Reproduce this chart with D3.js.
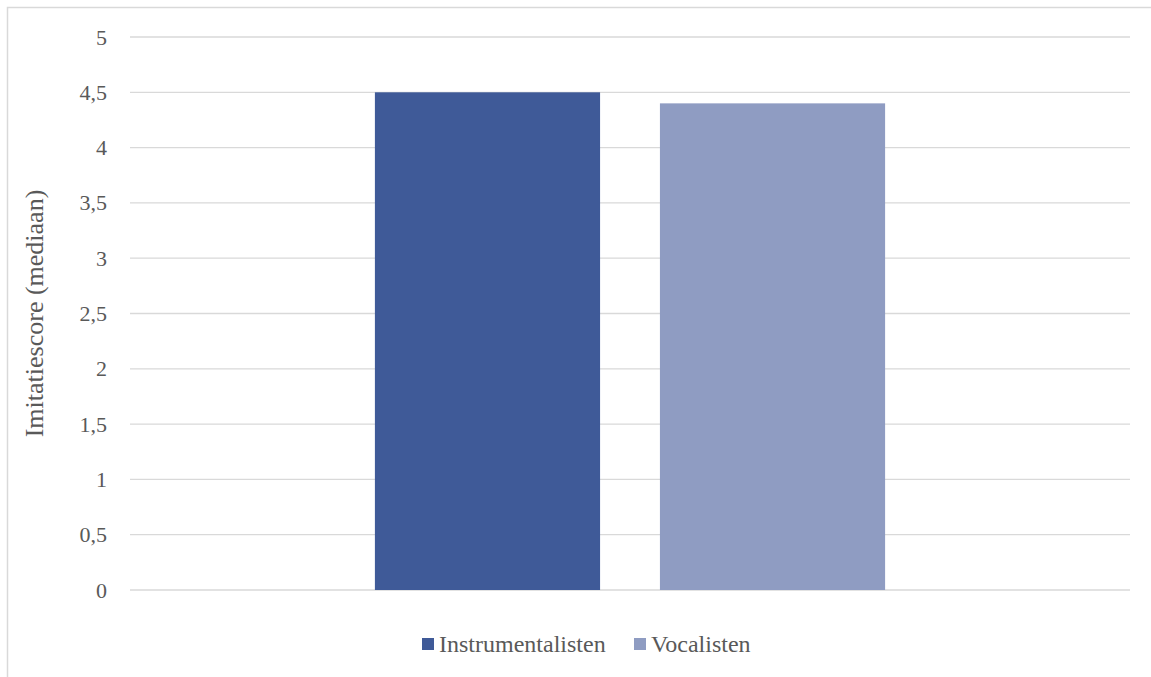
<!DOCTYPE html>
<html>
<head>
<meta charset="utf-8">
<script src="https://cdn.jsdelivr.net/npm/d3@7"></script>
</head>
<body style="margin:0">
<div id="chart"></div>
<script>
// data
const categories = [''];
const seriesNames = ['Instrumentalisten', 'Vocalisten'];
const seriesValues = [[4.5], [4.4]];
const seriesColors = ['#3F5A98', '#8F9CC2'];
const yTicks = [0, 0.5, 1, 1.5, 2, 2.5, 3, 3.5, 4, 4.5, 5];

const width = 1151, height = 677;
const margin = { top: 37, right: 21, bottom: 87, left: 130 };
const font = '"Liberation Serif"';
const textColor = '#595959';

const svg = d3.select('#chart').append('svg')
  .attr('width', width).attr('height', height)
  .style('display', 'block');

// outer chart border (runs off the right and bottom of the picture)
svg.append('rect')
  .attr('x', 7.5).attr('y', 7.5)
  .attr('width', width + 10).attr('height', height + 10)
  .attr('fill', 'none').attr('stroke', '#D9D9D9').attr('stroke-width', 1.5);

const y = d3.scaleLinear().domain([0, 5]).range([height - margin.bottom, margin.top]);
const x0 = d3.scaleBand().domain(categories)
  .range([margin.left, width - margin.right]).paddingInner(0).paddingOuter(0.48);
const x1 = d3.scaleBand().domain(seriesNames)
  .range([0, x0.bandwidth()]).paddingInner(0.21).paddingOuter(0);

const fmt = v => String(v).replace('.', ',');

// gridlines
svg.append('g').selectAll('line')
  .data(yTicks).enter().append('line')
  .attr('x1', margin.left).attr('x2', width - margin.right)
  .attr('y1', d => y(d)).attr('y2', d => y(d))
  .attr('stroke', '#D9D9D9').attr('stroke-width', 1.3);

// y axis labels
const yAxis = d3.axisLeft(y).tickValues(yTicks).tickFormat(fmt).tickSize(0).tickPadding(23);
const ay = svg.append('g').attr('transform', `translate(${margin.left},0)`).call(yAxis);
ay.select('.domain').remove();
ay.selectAll('text')
  .style('font-family', font).style('font-size', '22px').style('fill', textColor);

// bars
const series = seriesNames.map((name, i) => ({ name, values: seriesValues[i], color: seriesColors[i] }));
series.forEach(s => {
  svg.append('g').selectAll('rect')
    .data(s.values.map((v, j) => ({ cat: categories[j], v })))
    .enter().append('rect')
    .attr('x', d => x0(d.cat) + x1(s.name))
    .attr('width', x1.bandwidth())
    .attr('y', d => y(d.v))
    .attr('height', d => y(0) - y(d.v))
    .attr('fill', s.color);
});

// y axis title
svg.append('text')
  .attr('transform', `translate(43,${(y(0) + y(5)) / 2}) rotate(-90)`)
  .attr('text-anchor', 'middle')
  .style('font-family', font).style('font-size', '26px').style('fill', textColor)
  .text('Imitatiescore (mediaan)');

// legend
const legend = svg.append('g').attr('transform', 'translate(422,638)');
const legendX = [0, 212];
series.forEach((s, i) => {
  const g = legend.append('g').attr('transform', `translate(${legendX[i]},0)`);
  g.append('rect').attr('width', 12).attr('height', 12).attr('fill', s.color);
  g.append('text').attr('x', 17).attr('y', 14)
    .style('font-family', font).style('font-size', '24px').style('fill', textColor)
    .text(s.name);
});
</script>
</body>
</html>
